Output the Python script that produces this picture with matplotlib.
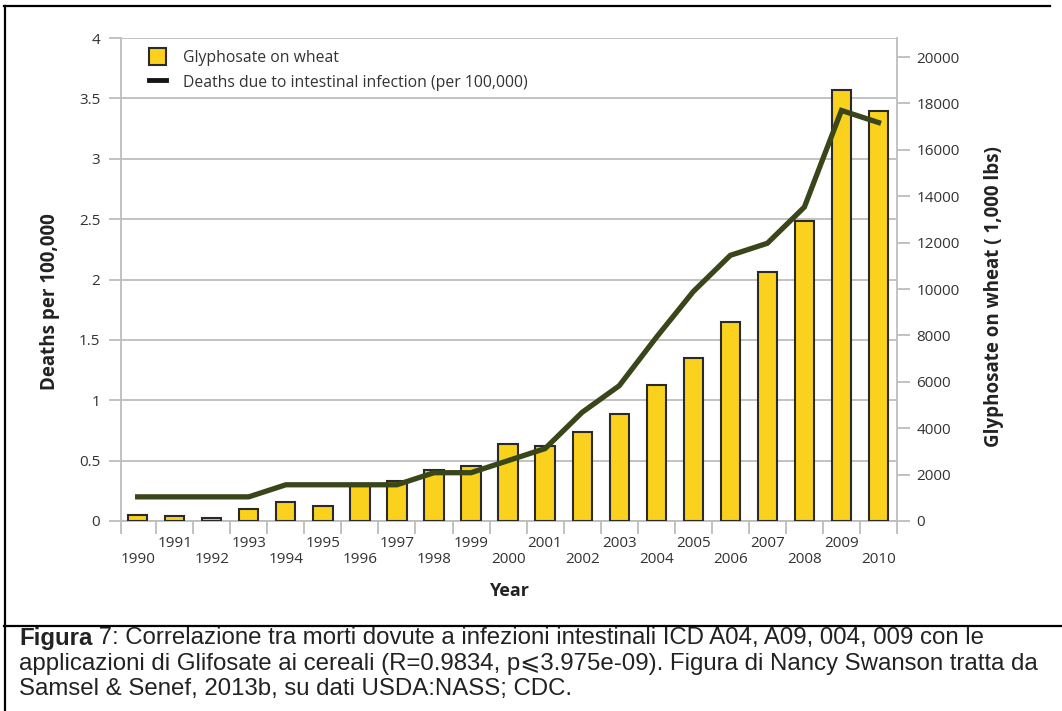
import matplotlib
matplotlib.use('Agg')
import matplotlib.pyplot as plt
from matplotlib.patches import Patch
from matplotlib.lines import Line2D
import numpy as np

# --- data ---
years = list(range(1990, 2011))
glyphosate = [260, 200, 130, 500, 820, 650, 1600, 1740, 2200, 2370, 3320,
              3250, 3840, 4610, 5860, 7040, 8580, 10750, 12930, 18600, 17670]
deaths = [0.2, 0.2, 0.2, 0.2, 0.3, 0.3, 0.3, 0.3, 0.4, 0.4, 0.5,
          0.6, 0.9, 1.12, 1.52, 1.9, 2.2, 2.3, 2.6, 3.4, 3.3]
left_ticks = [0, 0.5, 1, 1.5, 2, 2.5, 3, 3.5, 4]
left_tick_labels = ['0', '0.5', '1', '1.5', '2', '2.5', '3', '3.5', '4']
right_ticks = list(range(0, 20001, 2000))

caption_bold = 'Figura'
caption_lines = [
    ' 7: Correlazione tra morti dovute a infezioni intestinali ICD A04, A09, 004, 009 con le',
    'applicazioni di Glifosate ai cereali (R=0.9834, p\u2a7d3.975e-09). Figura di Nancy Swanson tratta da',
    'Samsel & Senef, 2013b, su dati USDA:NASS; CDC.',
]

plt.rcParams['font.family'] = ['Open Sans', 'DejaVu Sans']
BAR = '#FAD21E'
LINE = '#38461A'
GRID = '#BDBDBD'
TXT = '#333333'

fig = plt.figure(figsize=(10.62, 7.11), dpi=100)
ax = fig.add_axes([121 / 1062, 1 - 521 / 711, (897 - 121) / 1062, (521 - 38) / 711])
ax2 = ax.twinx()
ax3 = ax.twinx()

x = np.arange(len(years))

# left axis: grid + ticks
ax.set_ylim(0, 4)
ax.set_xlim(-0.45, 20.5)
ax.set_yticks(left_ticks)
ax.set_yticklabels(left_tick_labels)
ax.grid(axis='y', color=GRID, linewidth=1.3)
ax.set_axisbelow(True)
ax.tick_params(axis='y', length=9, color=GRID, width=1.3, labelsize=11,
               labelcolor=TXT, pad=6)
ax.set_xticks(x)
ax.set_xticklabels([f'{y}\n' if y % 2 else f'\n{y}' for y in years],
                   linespacing=1.05)
ax.set_xticks(list(np.arange(0.5, 20, 1)) + [-0.45, 20.5], minor=True)
ax.tick_params(axis='x', which='major', length=0, labelsize=11,
               labelcolor=TXT, pad=11)
ax.tick_params(axis='x', which='minor', length=9, color=GRID, width=1.3)
for s in ax.spines.values():
    s.set_color(GRID)
    s.set_linewidth(1.3)
ax.spines['top'].set_visible(False)
ax.set_ylabel('Deaths per 100,000', fontweight='bold', fontsize=13.5,
              color='#222222')
ax.yaxis.set_label_coords(-0.079, 0.455)
ax.set_xlabel('Year', fontweight='bold', fontsize=13, color='#222222',
              labelpad=11)

# right axis: glyphosate bars
ax2.bar(x, glyphosate, width=0.52, color=BAR, edgecolor='#2a2a2a',
        linewidth=1.5, zorder=2)
ax2.set_ylim(0, 20820)
ax2.set_yticks(right_ticks)
ax2.tick_params(axis='y', length=9, color=GRID, width=1.3, labelsize=11,
                labelcolor=TXT, pad=5)
for s in ax2.spines.values():
    s.set_visible(False)
ax2.set_ylabel('Glyphosate on wheat ( 1,000 lbs)', fontweight='bold',
               fontsize=13.5, color='#222222')
ax2.yaxis.set_label_coords(1.112, 0.465)

# death line on its own top axis, left scale
ax3.plot(x, deaths, color=LINE, linewidth=3.8, solid_joinstyle='miter')
ax3.set_ylim(0, 4)
ax3.set_xlim(ax.get_xlim())
ax3.set_yticks([])
for s in ax3.spines.values():
    s.set_visible(False)

handles = [Patch(facecolor=BAR, edgecolor='#2a2a2a', linewidth=1.5),
           Line2D([], [], color='#151515', linewidth=3.5)]
ax3.legend(handles, ['Glyphosate on wheat',
                     'Deaths due to intestinal infection (per 100,000)'],
           loc='upper left', bbox_to_anchor=(0.018, 1.008), frameon=False,
           fontsize=11.3, handlelength=1.1, handleheight=1.25,
           handletextpad=1.05, labelspacing=0.5, labelcolor=TXT)

# frame lines
def fline(x0, y0, x1, y1):
    fig.add_artist(Line2D([x0 / 1062, x1 / 1062], [1 - y0 / 711, 1 - y1 / 711],
                          color='black', linewidth=1.6,
                          transform=fig.transFigure))

fline(4, 6, 1050, 6)
fline(5, 6, 5, 711)
fline(4, 626, 1062, 626)

# caption
cap_font = ['Liberation Sans', 'DejaVu Sans']
cap_size = 17.3
t = fig.text(19 / 1062, 1 - 638 / 711, caption_bold, family=cap_font,
             fontweight='bold', fontsize=cap_size, color='#222222', va='center')
ax.annotate(caption_lines[0], xy=(1, 0.5), xycoords=t, va='center',
            ha='left', family=cap_font, fontsize=cap_size, color='#222222',
            annotation_clip=False)
fig.text(19 / 1062, 1 - 664 / 711, caption_lines[1], family=cap_font,
         fontsize=cap_size, color='#222222', va='center')
fig.text(19 / 1062, 1 - 689 / 711, caption_lines[2], family=cap_font,
         fontsize=cap_size, color='#222222', va='center')

fig.savefig('out.png', dpi=100)
